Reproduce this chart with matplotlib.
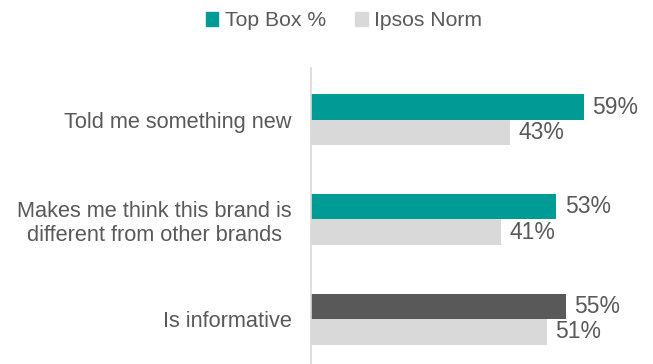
import matplotlib
matplotlib.use("Agg")
import matplotlib.pyplot as plt
from matplotlib.patches import Patch
import numpy as np

plt.rcParams["font.family"] = ["Liberation Sans", "DejaVu Sans"]

categories = ["Told me something new",
              "Makes me think this brand is\ndifferent from other brands",
              "Is informative"]
top_box = [59, 53, 55]
ipsos_norm = [43, 41, 51]
top_colors = ["#009B95", "#009B95", "#595959"]

TEXT = "#595959"
NORM = "#D9D9D9"

fig = plt.figure(figsize=(6.53, 3.64), dpi=100)
ax = fig.add_axes([311 / 653, 0, 342 / 653, 296 / 364])

y = np.arange(len(categories))
h = 0.255
ax.barh(y - h / 2, top_box, height=h, color=top_colors)
ax.barh(y + h / 2, ipsos_norm, height=h, color=NORM)

for yi, v in zip(y, top_box):
    ax.annotate(f"{v}%", (v, yi - h / 2), xytext=(6, 0), textcoords="offset points",
                va="center", ha="left", fontsize=16.5, color=TEXT)
for yi, v in zip(y, ipsos_norm):
    ax.annotate(f"{v}%", (v, yi + h / 2), xytext=(6, 0), textcoords="offset points",
                va="center", ha="left", fontsize=16.5, color=TEXT)

ax.set_xlim(0, 73.9)
ax.set_ylim(2.45, -0.52)
ax.set_yticks(y)
ax.set_yticklabels(categories, fontsize=15.7, color=TEXT)
for lbl in ax.get_yticklabels():
    lbl.set_multialignment("center")
ax.tick_params(axis="y", length=0, pad=14)
ax.set_xticks([])
for name, sp in ax.spines.items():
    sp.set_visible(name == "left")
ax.spines["left"].set_color(NORM)
ax.spines["left"].set_linewidth(1.2)

handles = [Patch(color="#009B95", label="Top Box %"),
           Patch(color=NORM, label="Ipsos Norm")]
fig.legend(handles=handles, loc="center", bbox_to_anchor=(344 / 653, 1 - 21 / 364),
           ncol=2, frameon=False, fontsize=15.2, labelcolor=TEXT,
           handlelength=0.6, handleheight=0.6, handletextpad=0.3, columnspacing=1.4)

fig.savefig("out.png", dpi=100)
